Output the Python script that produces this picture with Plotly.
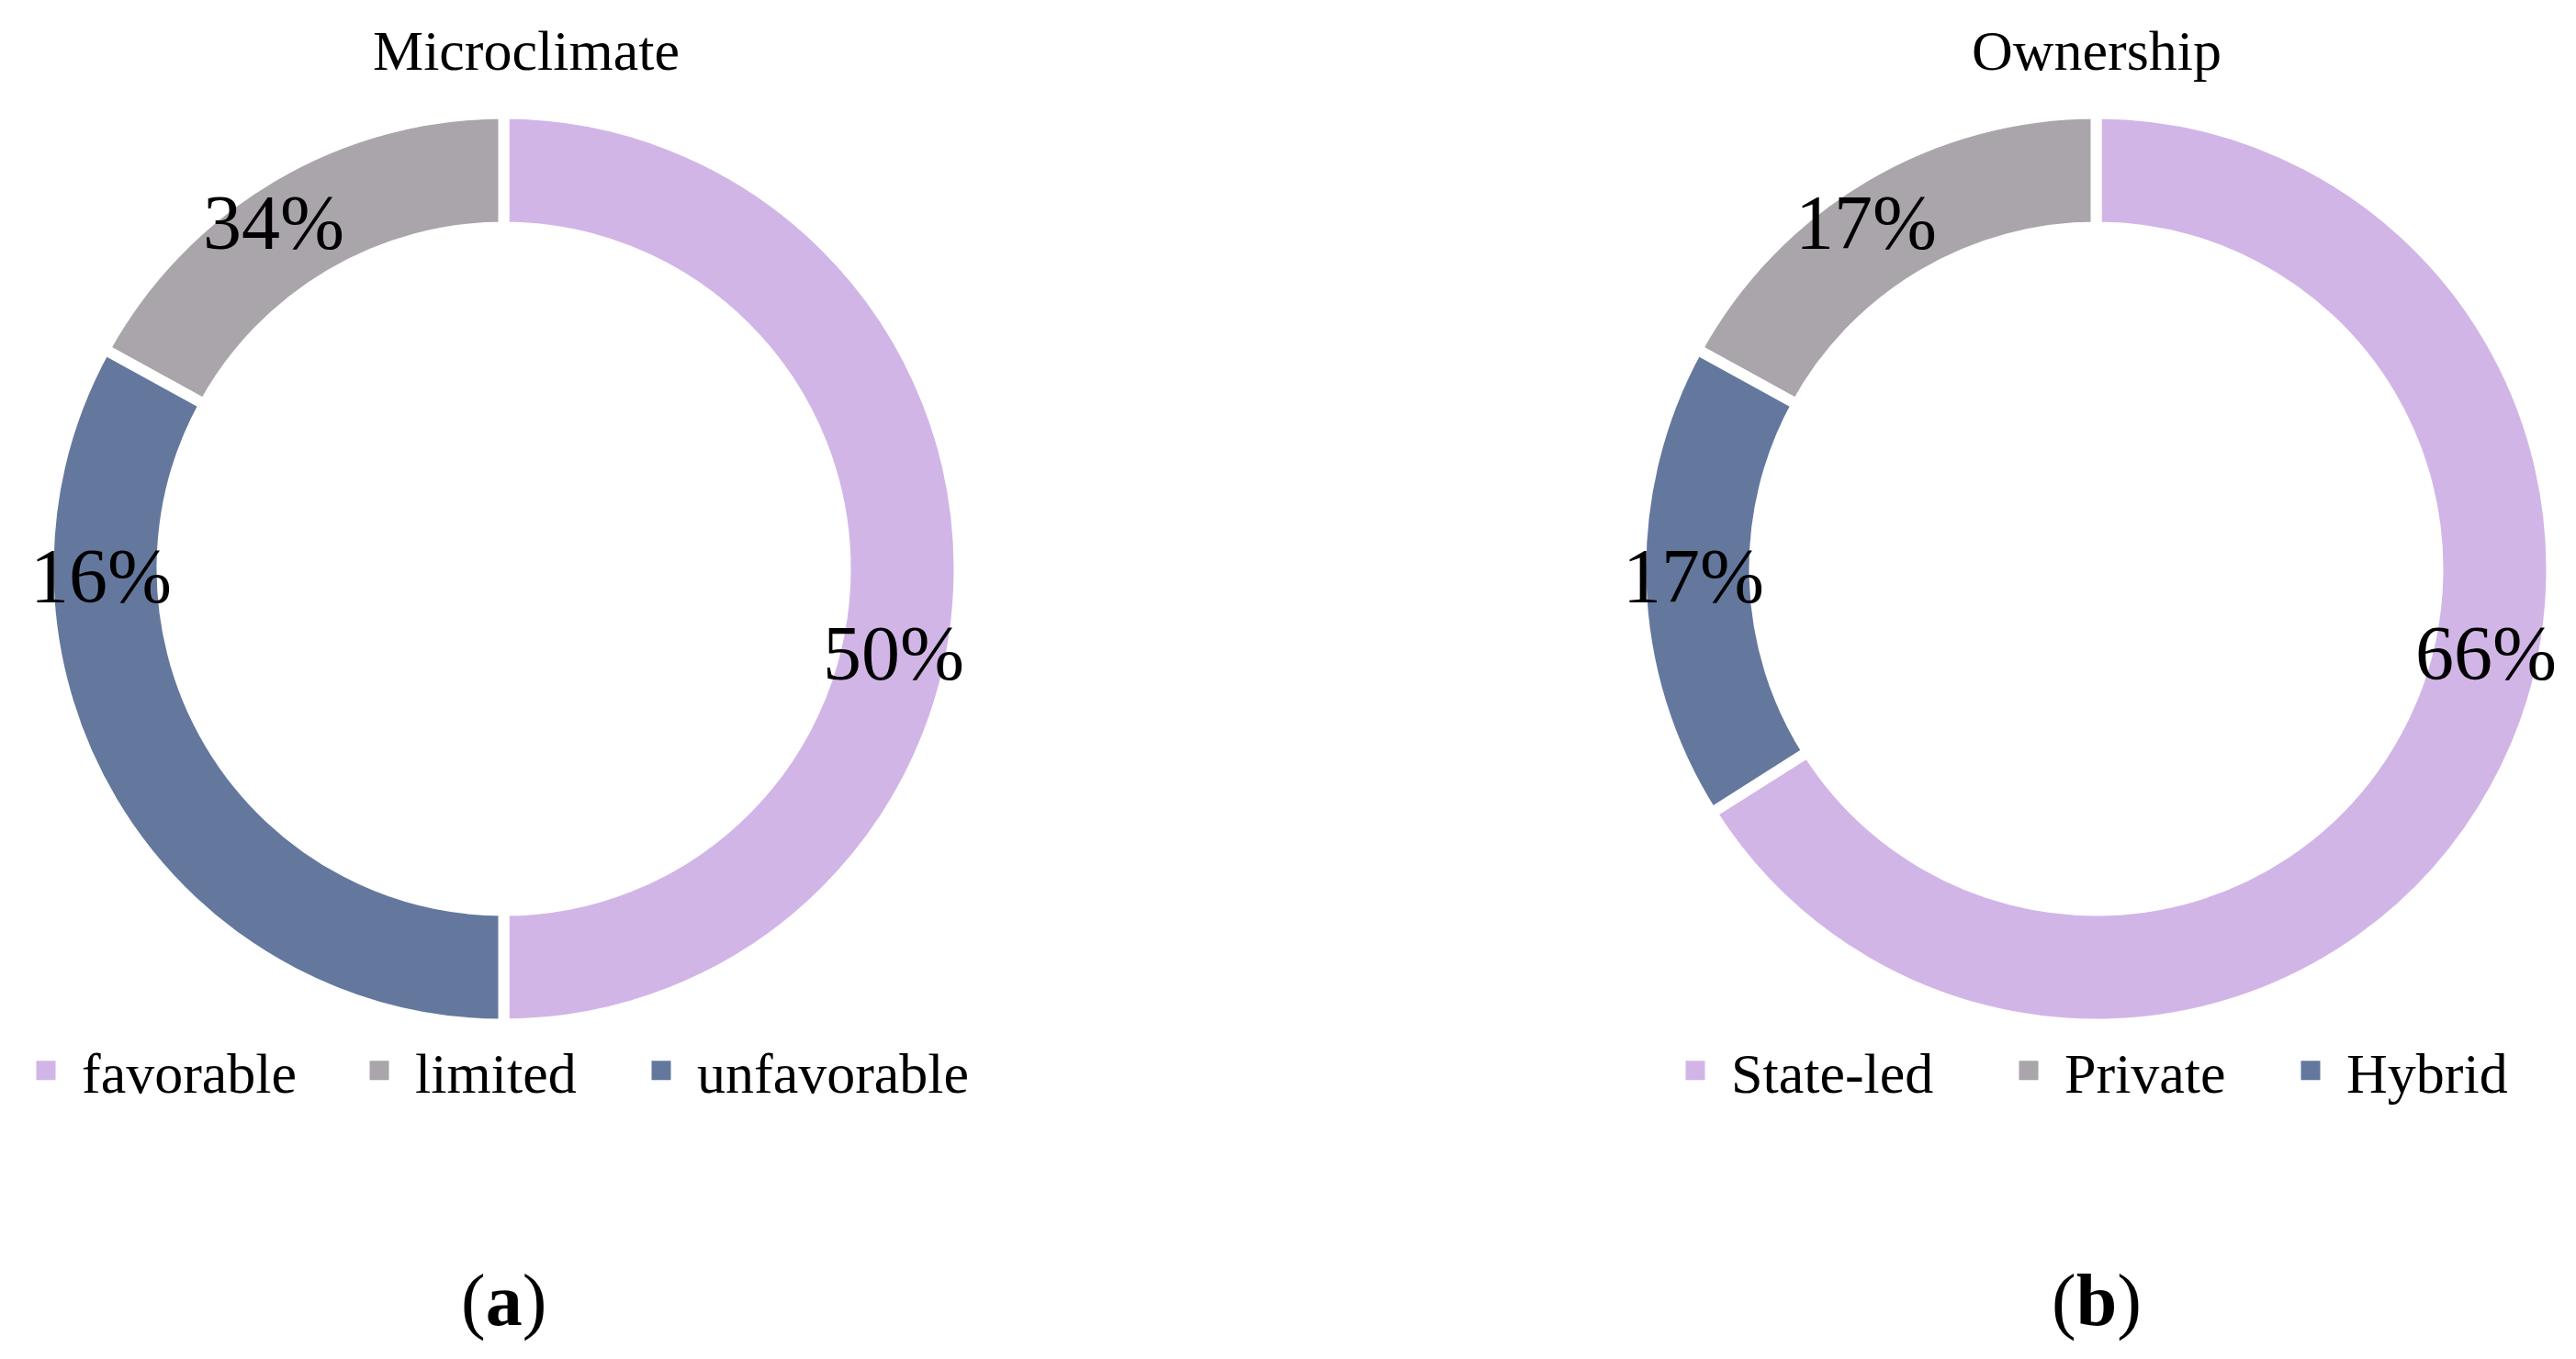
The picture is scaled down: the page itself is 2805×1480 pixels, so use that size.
import math
import plotly.graph_objects as go

# ---------------- data ----------------
micro_categories = ["favorable", "limited", "unfavorable"]
micro_values = [50, 17, 33]            # slice sizes as drawn
micro_labels = ["50%", "34%", "16%"]   # data labels as printed

own_categories = ["State-led", "Private", "Hybrid"]
own_values = [66, 17, 17]
own_labels = ["66%", "17%", "17%"]

titles = ["Microclimate", "Ownership"]
panel_tags = ["a", "b"]
colors = ["#D2B5E7", "#A9A5AA", "#64789E"]

# ---------------- layout constants ----------------
PAGE_OFF = 8                      # default body margin of the html page
W, H = 2805 - PAGE_OFF, 1480 - 2 * PAGE_OFF
FONT = "Liberation Serif"
R_PIE = 496
CENTERS = [(548.5, 619.5), (2282.5, 619.5)]   # screen px
HOLE = 0.75
LINE_W = 12
# data-label anchor (angle clockwise from 12 o'clock, radius px) per slice index
LABEL_ANCHORS = [(102.2, 434), (-33.6, 453), (-91.0, 439)]
TITLE_DX = [24, 0]
LEGEND_W = [[280, 224, 300], [280, 224, 190]]
LEGEND_X = [11, 1807]


def px_x(x):
    return (x - PAGE_OFF) / W


def px_y(y):
    return 1 - (y - PAGE_OFF) / H


panels = [
    (micro_categories, micro_values, micro_labels),
    (own_categories, own_values, own_labels),
]

fig = go.Figure()
annotations = []
legend_names = ["legend", "legend2"]

for p, (cats, vals, labs) in enumerate(panels):
    cx, cy = CENTERS[p]
    dom_x = [px_x(cx - R_PIE), px_x(cx + R_PIE)]
    dom_y = [px_y(cy + R_PIE), px_y(cy - R_PIE)]
    fig.add_trace(go.Pie(
        labels=cats, values=vals, hole=HOLE, sort=False,
        direction="counterclockwise", rotation=0,
        marker=dict(colors=colors, line=dict(color="white", width=LINE_W)),
        textinfo="none", showlegend=False,
        domain=dict(x=dom_x, y=dom_y),
        hovertemplate="%{label}: %{value}<extra></extra>",
    ))
    # legend entries (square markers)
    for i, c in enumerate(cats):
        fig.add_trace(go.Scatter(
            x=[None], y=[None], mode="markers", name=c,
            marker=dict(symbol="square", size=16, color=colors[i],
                        line=dict(color=colors[i], width=5)),
            legend=legend_names[p], legendwidth=LEGEND_W[p][i],
            showlegend=True, hoverinfo="skip",
        ))
    # data labels
    for i, t in enumerate(labs):
        ang, rr = LABEL_ANCHORS[i]
        a = math.radians(ang)
        lx = cx + rr * math.sin(a)
        ly = cy - rr * math.cos(a)
        annotations.append(dict(
            x=px_x(lx), y=px_y(ly), xref="paper", yref="paper",
            text=t, showarrow=False, xanchor="center", yanchor="middle",
            font=dict(family=FONT, size=84, color="black"),
        ))
    # title
    annotations.append(dict(
        x=px_x(cx + TITLE_DX[p]), y=px_y(55), xref="paper", yref="paper",
        text=titles[p], showarrow=False, xanchor="center", yanchor="middle",
        font=dict(family=FONT, size=62, color="black"),
    ))
    # panel tag
    annotations.append(dict(
        x=px_x(cx), y=px_y(1416), xref="paper", yref="paper",
        text="(<b>%s</b>)" % panel_tags[p], showarrow=False,
        xanchor="center", yanchor="middle",
        font=dict(family=FONT, size=80, color="black"),
    ))

legend_common = dict(
    orientation="h", xanchor="left", yanchor="middle",
    y=px_y(1166), itemwidth=68, traceorder="normal",
    font=dict(family=FONT, size=62, color="black"),
    bgcolor="rgba(0,0,0,0)", borderwidth=0,
)

fig.update_layout(
    width=W, height=H,
    margin=dict(l=0, r=0, t=0, b=0, autoexpand=False),
    paper_bgcolor="white", plot_bgcolor="white",
    xaxis=dict(visible=False, domain=[0.45, 0.46]),
    yaxis=dict(visible=False, domain=[0.0, 0.01]),
    annotations=annotations,
    legend=dict(x=px_x(LEGEND_X[0]), **legend_common),
    legend2=dict(x=px_x(LEGEND_X[1]), **legend_common),
    showlegend=True,
)

fig.write_html("out.html")
